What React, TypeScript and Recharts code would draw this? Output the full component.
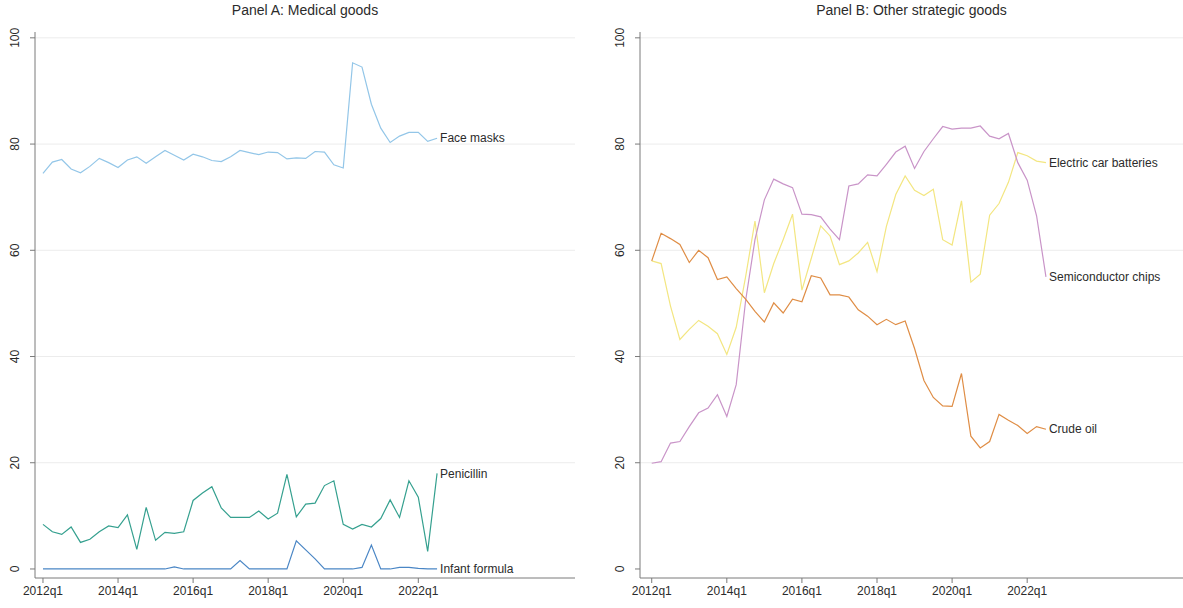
import { LineChart, Line, XAxis, YAxis, CartesianGrid } from 'recharts';

const QUARTERS = [
  '2012q1', '2012q2', '2012q3', '2012q4', '2013q1', '2013q2', '2013q3', '2013q4',
  '2014q1', '2014q2', '2014q3', '2014q4', '2015q1', '2015q2', '2015q3', '2015q4',
  '2016q1', '2016q2', '2016q3', '2016q4', '2017q1', '2017q2', '2017q3', '2017q4',
  '2018q1', '2018q2', '2018q3', '2018q4', '2019q1', '2019q2', '2019q3', '2019q4',
  '2020q1', '2020q2', '2020q3', '2020q4', '2021q1', '2021q2', '2021q3', '2021q4',
  '2022q1', '2022q2', '2022q3',
];

// Panel A
const FACE_MASKS = [
  74.5, 76.6, 77.1, 75.3, 74.6, 75.8, 77.3, 76.5, 75.6, 77.0, 77.6, 76.4, 77.6, 78.8, 77.9, 77.0,
  78.1, 77.6, 76.9, 76.7, 77.6, 78.8, 78.4, 78.0, 78.5, 78.4, 77.2, 77.4, 77.3, 78.6, 78.5, 76.1,
  75.5, 95.3, 94.5, 87.5, 83.0, 80.3, 81.5, 82.2, 82.2, 80.5, 81.1,
];
const PENICILLIN = [
  8.4, 7.0, 6.5, 7.9, 5.0, 5.6, 7.0, 8.1, 7.8, 10.2, 3.7, 11.6, 5.4, 6.9, 6.7, 7.0,
  12.9, 14.3, 15.5, 11.5, 9.7, 9.7, 9.7, 10.9, 9.4, 10.5, 17.8, 9.8, 12.2, 12.4, 15.7, 16.6,
  8.4, 7.5, 8.4, 7.9, 9.5, 13.0, 9.7, 16.6, 13.5, 3.3, 18.0,
];
const INFANT_FORMULA = [
  0, 0, 0, 0, 0, 0, 0, 0, 0, 0, 0, 0, 0, 0, 0.4, 0,
  0, 0, 0, 0, 0, 1.6, 0, 0, 0, 0, 0, 5.3, 3.6, 1.9, 0, 0,
  0, 0, 0.3, 4.5, 0, 0, 0.3, 0.3, 0.1, 0, 0,
];

// Panel B
const CAR_BATTERIES = [
  58.0, 57.5, 49.5, 43.2, 45.1, 46.8, 45.7, 44.3, 40.4, 45.5, 55.0, 65.5, 52.0, 57.5, 62.0, 66.8,
  52.5, 58.5, 64.6, 62.7, 57.3, 58.0, 59.5, 61.5, 56.0, 64.5, 70.5, 74.0, 71.3, 70.3, 71.5, 62.0,
  61.0, 69.3, 54.0, 55.5, 66.6, 68.8, 72.8, 78.4, 77.8, 76.8, 76.5,
];
const CHIPS = [
  19.9, 20.2, 23.7, 24.0, 26.8, 29.4, 30.3, 32.8, 28.7, 34.7, 50.5, 62.0, 69.5, 73.4, 72.5, 71.8,
  66.8, 66.7, 66.3, 64.0, 62.0, 72.1, 72.5, 74.2, 74.0, 76.2, 78.5, 79.6, 75.4, 78.6, 81.0, 83.3,
  82.8, 83.0, 83.0, 83.4, 81.5, 81.0, 82.0, 76.5, 73.2, 66.5, 55.0,
];
const CRUDE_OIL = [
  58.0, 63.2, 62.2, 61.1, 57.7, 60.0, 58.6, 54.5, 55.0, 52.8, 50.8, 48.5, 46.5, 50.1, 48.2, 50.8,
  50.3, 55.2, 54.8, 51.6, 51.6, 51.2, 48.8, 47.6, 46.0, 47.0, 46.0, 46.7, 41.5, 35.5, 32.3, 30.7,
  30.6, 36.8, 25.0, 22.8, 24.0, 29.1, 28.0, 27.0, 25.5, 26.8, 26.3,
];

const X_TICKS = [0, 8, 16, 24, 32, 40];
const Y_TICKS = [0, 20, 40, 60, 80, 100];
const GRID_VALUES = [20, 40, 60, 80, 100];

const LAST = QUARTERS.length - 1;
const FONT = '"Liberation Sans", Arial, Helvetica, sans-serif';
const AXIS = '#7a7a7a';
const TEXT = '#2b2b2b';

const dataA = QUARTERS.map((q, t) => ({
  t,
  q,
  faceMasks: FACE_MASKS[t],
  penicillin: PENICILLIN[t],
  infant: INFANT_FORMULA[t],
}));

const dataB = QUARTERS.map((q, t) => ({
  t,
  q,
  batteries: CAR_BATTERIES[t],
  chips: CHIPS[t],
  crude: CRUDE_OIL[t],
}));

const RotatedTick = ({ x, y, payload }: any) => (
  <text
    x={x}
    y={y}
    transform={`rotate(-90 ${x} ${y})`}
    textAnchor="middle"
    fontSize={12}
    fill={TEXT}
    fontFamily={FONT}
  >
    {payload.value}
  </text>
);

// text label drawn at the last point of a series
const endLabel = (name: string) => (p: any) =>
  p.index === LAST ? (
    <text
      key={`lbl-${name}`}
      x={p.cx + 3}
      y={p.cy}
      dy="0.35em"
      fontSize={12}
      fill={TEXT}
      fontFamily={FONT}
    >
      {name}
    </text>
  ) : (
    <g key={`d-${name}-${p.index}`} />
  );

interface PanelProps {
  title: string;
  width: number;
  yAxisWidth: number;
  marginRight: number;
  xDomain: [number, number];
  data: any[];
  series: { key: string; name: string; color: string }[];
}

function Panel({ title, width, yAxisWidth, marginRight, xDomain, data, series }: PanelProps) {
  const plotWidth = width - yAxisWidth - marginRight;
  return (
    <div style={{ position: 'relative', width, height: 608 }}>
      <div
        style={{
          position: 'absolute',
          left: yAxisWidth,
          width: plotWidth,
          top: 2,
          textAlign: 'center',
          fontSize: 14,
          color: TEXT,
          fontFamily: FONT,
        }}
      >
        {title}
      </div>
      <LineChart
        width={width}
        height={608}
        data={data}
        margin={{ top: 32, right: marginRight, bottom: 0, left: 0 }}
      >
        <CartesianGrid vertical={false} horizontalValues={GRID_VALUES} stroke="#ececec" />
        <XAxis
          dataKey="t"
          type="number"
          domain={xDomain}
          allowDataOverflow
          ticks={X_TICKS}
          tickFormatter={(t: number) => QUARTERS[t]}
          height={30}
          tickSize={5}
          tickMargin={3}
          stroke={AXIS}
          tick={{ fontSize: 12, fill: TEXT, fontFamily: FONT }}
          interval={0}
        />
        <YAxis
          type="number"
          domain={[-1.7, 101.1]}
          allowDataOverflow
          ticks={Y_TICKS}
          width={yAxisWidth}
          tickSize={5}
          tickMargin={11}
          stroke={AXIS}
          tick={<RotatedTick />}
          interval={0}
        />
        {series.map((s) => (
          <Line
            key={s.key}
            type="linear"
            dataKey={s.key}
            stroke={s.color}
            strokeWidth={1.2}
            dot={endLabel(s.name)}
            activeDot={false}
            isAnimationActive={false}
          />
        ))}
      </LineChart>
    </div>
  );
}

export default function App() {
  return (
    <div style={{ width: 1183, height: 608, display: 'flex', background: '#fff', fontFamily: FONT }}>
      <style>{'body{margin:0;background:#fff;}'}</style>
      <Panel
        title="Panel A: Medical goods"
        width={590}
        yAxisWidth={35}
        marginRight={15}
        xDomain={[-0.85, 56.7]}
        data={dataA}
        series={[
          { key: 'faceMasks', name: 'Face masks', color: '#93c6e8' },
          { key: 'penicillin', name: 'Penicillin', color: '#35a08f' },
          { key: 'infant', name: 'Infant formula', color: '#4a86c5' },
        ]}
      />
      <Panel
        title="Panel B: Other strategic goods"
        width={593}
        yAxisWidth={50}
        marginRight={0}
        xDomain={[-1.25, 56.6]}
        data={dataB}
        series={[
          { key: 'batteries', name: 'Electric car batteries', color: '#f3e681' },
          { key: 'chips', name: 'Semiconductor chips', color: '#c994c8' },
          { key: 'crude', name: 'Crude oil', color: '#df8d45' },
        ]}
      />
    </div>
  );
}
